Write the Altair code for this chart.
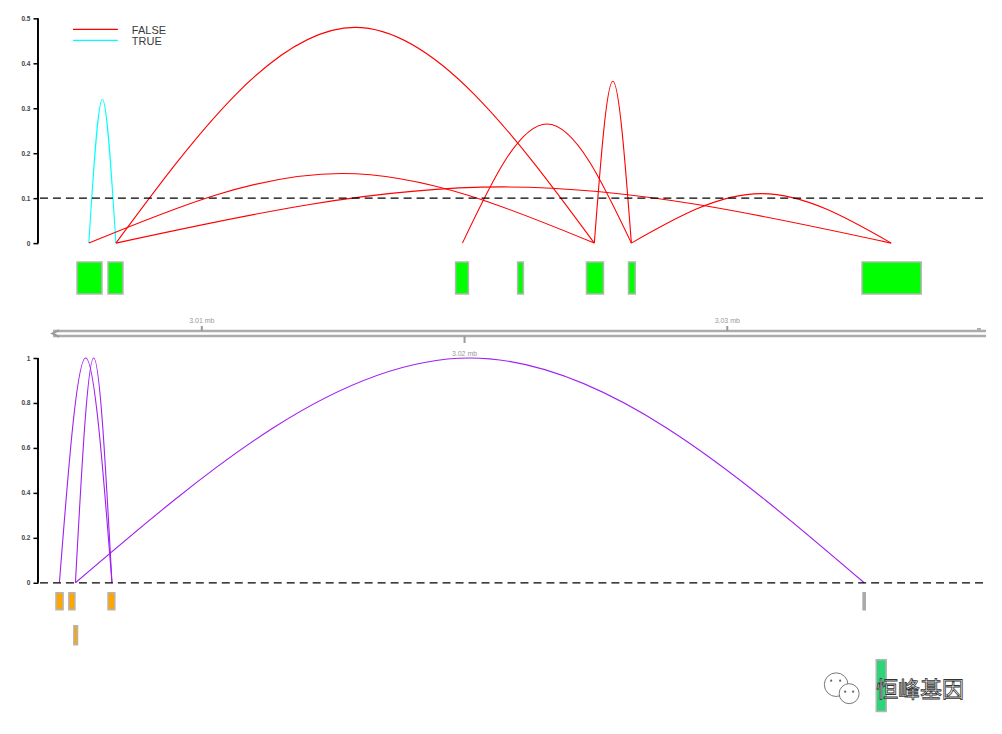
import altair as alt
import pandas as pd

# ---------------- data (genomic positions in kb) ----------------
top_gene_start = [3005.25, 3006.43, 3019.66, 3022.02, 3024.64, 3026.24, 3035.13]
top_gene_end   = [3006.20, 3007.00, 3020.15, 3022.24, 3025.29, 3026.50, 3037.38]

top_arc_start = [3005.70, 3005.70, 3006.73, 3006.73, 3019.92, 3024.94, 3026.35]
top_arc_end   = [3006.73, 3024.94, 3024.94, 3036.24, 3026.35, 3026.35, 3036.24]
top_arc_score = [0.32, 0.155, 0.48, 0.125, 0.265, 0.36, 0.11]
top_arc_flag  = ["TRUE", "FALSE", "FALSE", "FALSE", "FALSE", "FALSE", "FALSE"]

bot_gene_start = [3004.45, 3004.94, 3006.43, 3005.13, 3035.17, 3035.67]
bot_gene_end   = [3004.72, 3005.17, 3006.69, 3005.27, 3035.25, 3036.05]
bot_gene_row   = [1, 1, 1, 2, 1, 3]
bot_gene_kind  = ["A", "A", "A", "A", "B", "C"]

bot_arc_start = [3004.58, 3005.19, 3005.19]
bot_arc_end   = [3006.58, 3006.58, 3035.21]
bot_arc_score = [1.0, 1.0, 1.0]

ruler_ticks  = [3010, 3020, 3030]
ruler_labels = ["3.01 mb", "3.02 mb", "3.03 mb"]
ruler_side   = ["up", "down", "up"]
ruler_range  = [3004.34, 3039.85]

flag_levels = ["FALSE", "TRUE"]
top_ticks = [0, 0.1, 0.2, 0.3, 0.4, 0.5]
bot_ticks = [0, 0.2, 0.4, 0.6, 0.8, 1]
threshold_top = 0.1
threshold_bot = 0.0
watermark = "恒峰基因"

# ---------------- layout / style constants ----------------
W = 952
X_DOMAIN = [3003.764, 3039.962]
TOP_Y = [-0.2556, 0.5]
BOT_Y = [-0.64, 1.0]
TOP_GENE_Y = (-0.042, -0.113)
BOT_ROW_Y = {1: (-0.044, -0.12), 2: (-0.191, -0.276), 3: (-0.342, -0.573)}
KIND_COLOR = {"A": "#FFA500", "B": "#A9A9A9", "C": "#2ED47A"}
FONT = "Liberation Sans"

xs = alt.Scale(domain=X_DOMAIN, nice=False, zero=False)
ys_top = alt.Scale(domain=TOP_Y, nice=False, zero=False)
ys_bot = alt.Scale(domain=BOT_Y, nice=False, zero=False)
color_scale = alt.Scale(domain=flag_levels, range=["#FF0000", "#00FFFF"])


def arc_frame(starts, ends, scores, groups):
    rows = []
    for i, (s, e, h, g) in enumerate(zip(starts, ends, scores, groups)):
        rows.append(dict(id=i, pos=s, score=0.0, group=g))
        rows.append(dict(id=i, pos=(s + e) / 2, score=h, group=g))
        rows.append(dict(id=i, pos=e, score=0.0, group=g))
    return pd.DataFrame(rows)


one = pd.DataFrame({"k": [0]})

# ================= TOP PANEL =================
top_arcs = arc_frame(top_arc_start, top_arc_end, top_arc_score, top_arc_flag)

arcs_top = alt.Chart(top_arcs).mark_line(interpolate="natural", strokeWidth=1.1).encode(
    x=alt.X("pos:Q", scale=xs, axis=None),
    y=alt.Y("score:Q", scale=ys_top, axis=alt.Axis(values=top_ticks)),
    color=alt.Color("group:N", scale=color_scale, legend=None),
    detail="id:N",
)

axis_line_top = alt.Chart(one).mark_rule(color="black", strokeWidth=2).encode(
    x=alt.value(0), y=alt.datum(0), y2=alt.datum(0.5)
)

dash_top = alt.Chart(one).mark_rule(color="black", strokeWidth=1.3, strokeDash=[8, 5]).encode(
    y=alt.datum(threshold_top), x=alt.value(2), x2=alt.value(950)
)

top_genes = pd.DataFrame({"start": top_gene_start, "end": top_gene_end})
genes_top = alt.Chart(top_genes).mark_rect(color="#00FF00", stroke="#B5B5B5", strokeWidth=1.5).encode(
    x=alt.X("start:Q", scale=xs), x2="end:Q",
    y=alt.datum(TOP_GENE_Y[0]), y2=alt.datum(TOP_GENE_Y[1]),
)

# genome ruler
ruler_lines = [
    alt.Chart(one).mark_rule(color="#ABABAB", strokeWidth=2.5).encode(
        x=alt.datum(ruler_range[0]), x2=alt.datum(ruler_range[1]), y=alt.datum(yv)
    )
    for yv in (-0.1956, -0.2067)
]
ruler_df = pd.DataFrame({"tick": ruler_ticks, "label": ruler_labels, "side": ruler_side})
ticks_up = alt.Chart(ruler_df).transform_filter("datum.side == 'up'").mark_rule(
    color="#9A9A9A", strokeWidth=2).encode(
    x=alt.X("tick:Q", scale=xs), y=alt.datum(-0.1844), y2=alt.datum(-0.1956))
ticks_dn = alt.Chart(ruler_df).transform_filter("datum.side == 'down'").mark_rule(
    color="#9A9A9A", strokeWidth=2).encode(
    x=alt.X("tick:Q", scale=xs), y=alt.datum(-0.2067), y2=alt.datum(-0.2222))
labels_up = alt.Chart(ruler_df).transform_filter("datum.side == 'up'").mark_text(
    fontSize=7, font=FONT, color="#999999", baseline="middle").encode(
    x=alt.X("tick:Q", scale=xs), y=alt.datum(-0.1733), text="label:N")
labels_dn = alt.Chart(ruler_df).transform_filter("datum.side == 'down'").mark_text(
    fontSize=7, font=FONT, color="#999999", baseline="middle").encode(
    x=alt.X("tick:Q", scale=xs), y=alt.datum(-0.2467), text="label:N")
chevron = alt.Chart(one).mark_point(
    shape="M1,-1L-1,0L1,1", filled=False, color="#9A9A9A", strokeWidth=2, size=45, opacity=1
).encode(x=alt.datum(ruler_range[0] + 0.1), y=alt.datum(-0.2011))
end_tick = alt.Chart(one).mark_rule(color="#B0B0B0", strokeWidth=4).encode(
    x=alt.datum(ruler_range[1] - 0.27), y=alt.datum(-0.1889), y2=alt.datum(-0.1956))

# manual legend
legend_layers = []
for i, lab in enumerate(flag_levels):
    ldf = pd.DataFrame({"group": [lab]})
    legend_layers.append(
        alt.Chart(ldf).mark_rule(strokeWidth=1.3).encode(
            x=alt.value(35), x2=alt.value(80), y=alt.value(11 + 11 * i),
            color=alt.Color("group:N", scale=color_scale, legend=None))
    )
    legend_layers.append(
        alt.Chart(ldf).mark_text(align="left", baseline="middle", fontSize=11, font=FONT,
                                 color="#3A3A3A").encode(
            x=alt.value(94), y=alt.value(13 + 11 * i), text="group:N")
    )

top = alt.layer(
    arcs_top, axis_line_top, dash_top, genes_top, *ruler_lines, ticks_up, ticks_dn,
    labels_up, labels_dn, chevron, end_tick, *legend_layers
).properties(width=W, height=340)

# ================= BOTTOM PANEL =================
bot_arcs = arc_frame(bot_arc_start, bot_arc_end, bot_arc_score, ["x"] * len(bot_arc_start))
arcs_bot = alt.Chart(bot_arcs).mark_line(interpolate="natural", strokeWidth=1.1, color="#A020F0").encode(
    x=alt.X("pos:Q", scale=xs, axis=None),
    y=alt.Y("score:Q", scale=ys_bot, axis=alt.Axis(values=bot_ticks)),
    detail="id:N",
)
axis_line_bot = alt.Chart(one).mark_rule(color="black", strokeWidth=2).encode(
    x=alt.value(0), y=alt.datum(0), y2=alt.datum(1)
)
dash_bot = alt.Chart(one).mark_rule(color="black", strokeWidth=1.3, strokeDash=[8, 5]).encode(
    y=alt.datum(threshold_bot), x=alt.value(2), x2=alt.value(950)
)
bg = pd.DataFrame({"start": bot_gene_start, "end": bot_gene_end, "row": bot_gene_row, "kind": bot_gene_kind})
bg["y1"] = bg["row"].map(lambda r: BOT_ROW_Y[r][0])
bg["y2"] = bg["row"].map(lambda r: BOT_ROW_Y[r][1])
gene_layers_bot = [
    alt.Chart(bg).transform_filter(f"datum.kind == '{k}'").mark_rect(
        color=c, stroke="#B5B5B5" if k != "B" else c, strokeWidth=1.5).encode(
        x=alt.X("start:Q", scale=xs), x2="end:Q",
        y=alt.Y("y1:Q", scale=ys_bot), y2="y2:Q",
    )
    for k, c in KIND_COLOR.items()
]

# watermark (wechat icon + text)
bubbles = pd.DataFrame({"bx": [799, 812], "by": [327, 336], "bs": [560, 400]})
bubble_layer = alt.Chart(bubbles).mark_point(
    shape="circle", filled=True, fill="white", stroke="#777777", strokeWidth=1, opacity=1
).encode(x=alt.X("bx:Q", scale=None), y=alt.Y("by:Q", scale=None), size=alt.Size("bs:Q", scale=None, legend=None))
eyes = pd.DataFrame({"ex": [794, 803, 808, 816], "ey": [323, 323, 334, 334]})
eye_layer = alt.Chart(eyes).mark_point(shape="circle", filled=True, color="#666666", size=5, opacity=1).encode(
    x=alt.X("ex:Q", scale=None), y=alt.Y("ey:Q", scale=None))
wm_text = alt.Chart(one).mark_text(
    text=watermark, fontSize=22, font="Noto Sans CJK SC", fill="white", stroke="#333333",
    strokeWidth=0.8, align="center", baseline="middle"
).encode(x=alt.value(883), y=alt.value(332))

bottom = alt.layer(
    arcs_bot, axis_line_bot, dash_bot, *gene_layers_bot, bubble_layer, eye_layer, wm_text
).properties(width=W, height=369)

chart = alt.vconcat(top, bottom, spacing=0, bounds="flush").properties(
    padding={"left": 0, "top": 7, "right": 5, "bottom": 0}
).configure_view(stroke=None).configure_axisY(
    domain=False, grid=False, title=None, format="~g", tickSize=5, tickColor="black",
    tickWidth=1.5, labelFontSize=6.5, labelFont=FONT, labelFontWeight="bold",
    labelColor="#444444", labelPadding=3, labelFlush=False, minExtent=30, maxExtent=30,
)

chart.save("out.html", embed_options={"renderer": "svg", "actions": False})
